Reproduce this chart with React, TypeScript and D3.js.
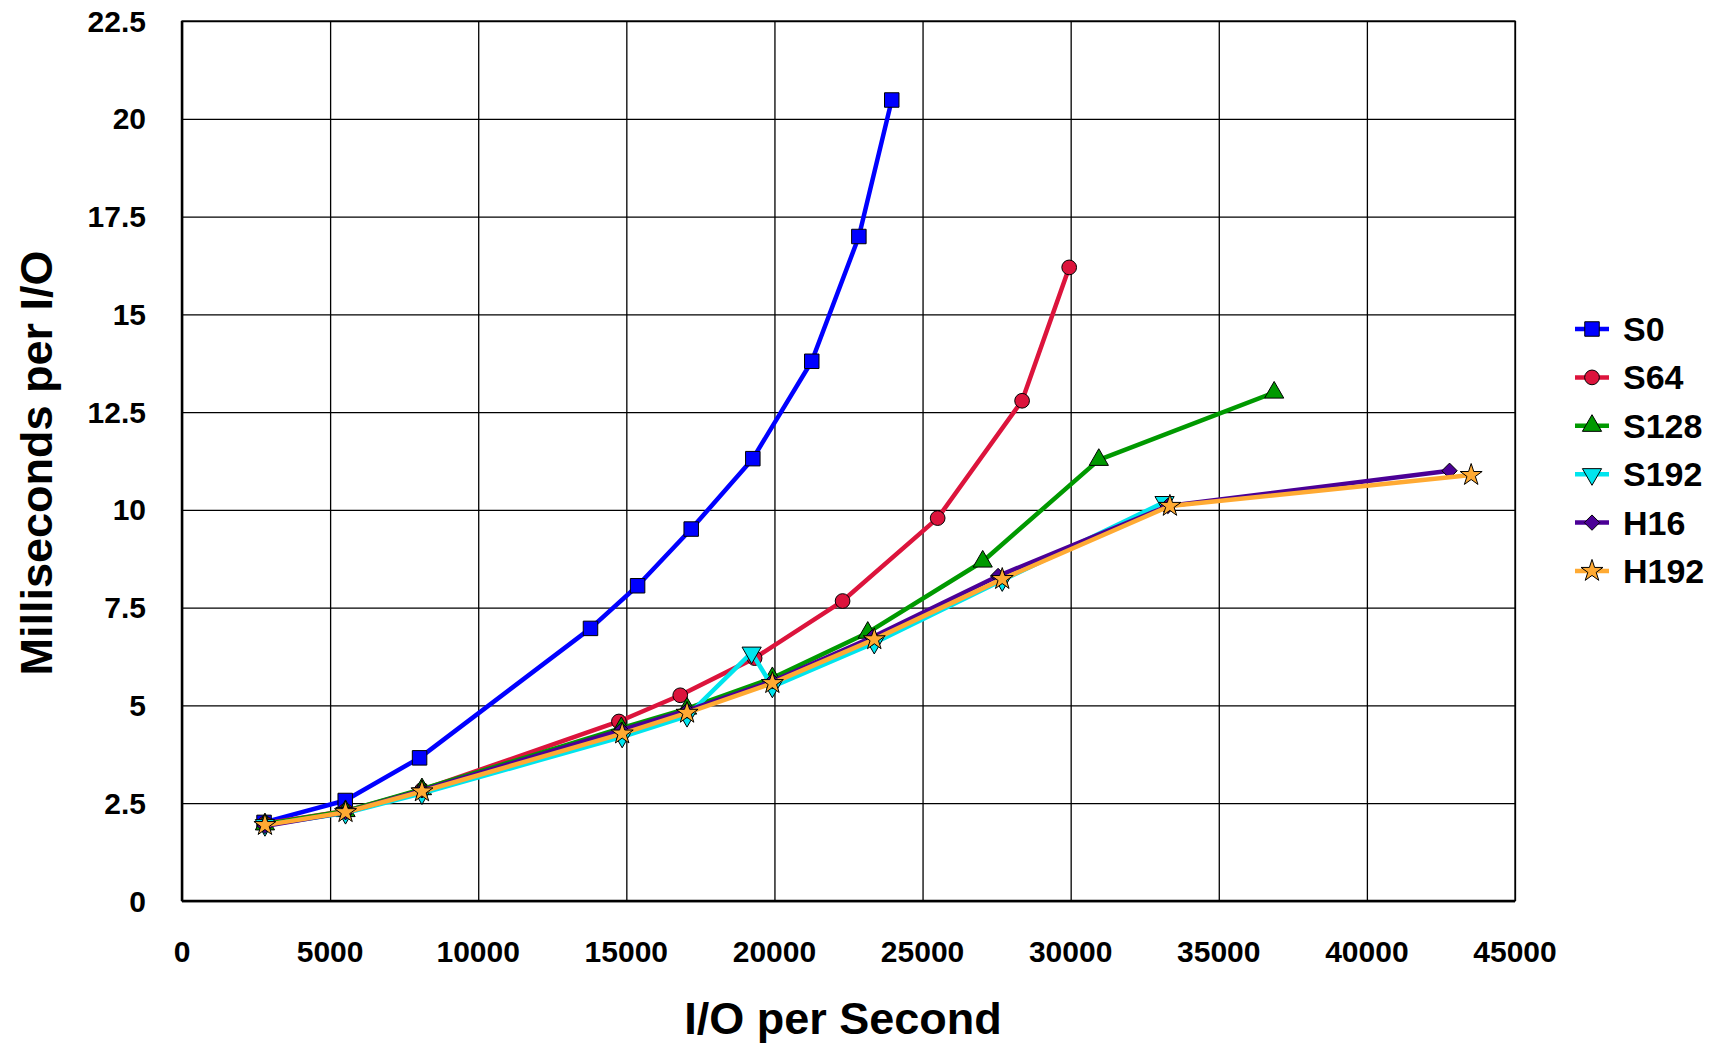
import * as d3 from "d3";
import { useRef, useEffect } from "react";

const seriesNames = ["S0", "S64", "S128", "S192", "H16", "H192"];
const seriesColors = ["#0000ff", "#dc143c", "#009900", "#00e5ee", "#4b0096", "#ffaa33"];

const s0X = [2770, 5510, 8020, 13790, 15380, 17190, 19270, 21260, 22850, 23960];
const s0Y = [2.01, 2.57, 3.66, 6.97, 8.06, 9.51, 11.31, 13.8, 16.99, 20.48];
const s64X = [2800, 5520, 8100, 14750, 16820, 19330, 22300, 25510, 28360, 29950];
const s64Y = [1.98, 2.3, 2.84, 4.59, 5.26, 6.21, 7.67, 9.79, 12.79, 16.2];
const s128X = [2800, 5520, 8100, 14830, 17050, 19930, 23150, 27030, 30950, 36870];
const s128Y = [1.96, 2.3, 2.86, 4.42, 4.92, 5.7, 6.86, 8.68, 11.28, 13.0];
const s192X = [2800, 5520, 8100, 14860, 17050, 19230, 19930, 23370, 27690, 33170];
const s192Y = [1.94, 2.25, 2.75, 4.2, 4.73, 6.35, 5.48, 6.6, 8.2, 10.2];
const h16X = [2800, 5520, 8100, 14830, 17050, 19930, 23300, 27550, 33280, 42790];
const h16Y = [1.92, 2.27, 2.83, 4.37, 4.87, 5.62, 6.74, 8.31, 10.1, 11.0];
const h192X = [2800, 5520, 8100, 14860, 17050, 19930, 23370, 27690, 33350, 43520];
const h192Y = [1.94, 2.27, 2.8, 4.28, 4.81, 5.57, 6.69, 8.23, 10.1, 10.89];

const xTicks = [0, 5000, 10000, 15000, 20000, 25000, 30000, 35000, 40000, 45000];
const yTicks = [0, 2.5, 5, 7.5, 10, 12.5, 15, 17.5, 20, 22.5];

const allX = [s0X, s64X, s128X, s192X, h16X, h192X];
const allY = [s0Y, s64Y, s128Y, s192Y, h16Y, h192Y];

const FONT = "Arial, 'Liberation Sans', sans-serif";

const App = () => {
  const svgRef = useRef(null);
  const width = 1717;
  const height = 1045;
  const margin = { left: 182, top: 21, right: 202, bottom: 144 };
  const w = width - margin.left - margin.right;
  const h = height - margin.top - margin.bottom;

  useEffect(() => {
    const xScale = d3.scaleLinear().domain([0, 45000]).range([0, w]);
    const yScale = d3.scaleLinear().domain([0, 22.5]).range([h, 0]);

    const svgEl = d3.select(svgRef.current);
    svgEl.selectAll("*").remove();
    svgEl.append("rect").attr("width", width).attr("height", height).attr("fill", "#fff");

    const svg = svgEl.append("g").attr("transform", `translate(${margin.left},${margin.top})`);

    // grid
    const xAxisGroup = svg
      .append("g")
      .attr("transform", `translate(0, ${h})`)
      .call(d3.axisBottom(xScale).tickValues(xTicks).tickSize(h).tickFormat(() => ""));
    xAxisGroup.select(".domain").remove();
    xAxisGroup.selectAll("line").attr("stroke", "#000").attr("stroke-width", 1.3).attr("transform", `translate(0,${-h})`);

    const yAxisGroup = svg
      .append("g")
      .call(d3.axisLeft(yScale).tickValues(yTicks).tickSize(-w).tickFormat(() => ""));
    yAxisGroup.select(".domain").remove();
    yAxisGroup.selectAll("line").attr("stroke", "#000").attr("stroke-width", 1.3);

    svg.append("rect").attr("width", w).attr("height", h).attr("fill", "none").attr("stroke", "#000").attr("stroke-width", 1.3);
    svg.append("line").attr("x1", 0).attr("x2", 0).attr("y1", 0).attr("y2", h).attr("stroke", "#000").attr("stroke-width", 2.5);
    svg.append("line").attr("x1", 0).attr("x2", w).attr("y1", h).attr("y2", h).attr("stroke", "#000").attr("stroke-width", 2.5);

    // tick labels
    svg
      .selectAll(".xl")
      .data(xTicks)
      .enter()
      .append("text")
      .attr("x", (d) => xScale(d))
      .attr("y", h + 61)
      .attr("text-anchor", "middle")
      .attr("font-family", FONT)
      .attr("font-weight", "bold")
      .attr("font-size", 30)
      .text((d) => String(d));
    svg
      .selectAll(".yl")
      .data(yTicks)
      .enter()
      .append("text")
      .attr("x", -36)
      .attr("y", (d) => yScale(d) + 10.5)
      .attr("text-anchor", "end")
      .attr("font-family", FONT)
      .attr("font-weight", "bold")
      .attr("font-size", 30)
      .text((d) => String(d));

    // titles
    svgEl
      .append("text")
      .attr("x", 843)
      .attr("y", 1034)
      .attr("text-anchor", "middle")
      .attr("font-family", FONT)
      .attr("font-weight", "bold")
      .attr("font-size", 45)
      .text("I/O per Second");
    svgEl
      .append("text")
      .attr("transform", `translate(52, ${463}) rotate(-90)`)
      .attr("text-anchor", "middle")
      .attr("font-family", FONT)
      .attr("font-weight", "bold")
      .attr("font-size", 45)
      .text("Milliseconds per I/O");

    const symbols = [
      d3.symbol().type(d3.symbolSquare).size(210),
      d3.symbol().type(d3.symbolCircle).size(170),
      d3.symbol().type(d3.symbolTriangle).size(160),
      d3.symbol().type(d3.symbolTriangle).size(160),
      d3.symbol().type(d3.symbolDiamond2).size(150),
      d3.symbol().type(d3.symbolStar).size(150),
    ];
    const rot = [0, 0, 0, 180, 0, 0];

    const line = d3
      .line()
      .x((d) => xScale(d[0]))
      .y((d) => yScale(d[1]));

    seriesNames.forEach((name, i) => {
      const pts = allX[i].map((x, j) => [x, allY[i][j]]);
      svg
        .append("path")
        .datum(pts)
        .attr("fill", "none")
        .attr("stroke", seriesColors[i])
        .attr("stroke-width", 4.5)
        .attr("stroke-linejoin", "round")
        .attr("d", line);
      svg
        .selectAll(".m" + i)
        .data(pts)
        .enter()
        .append("path")
        .attr("d", symbols[i])
        .attr("transform", (d) => `translate(${xScale(d[0])},${yScale(d[1])}) rotate(${rot[i]})`)
        .attr("fill", seriesColors[i])
        .attr("stroke", "#000")
        .attr("stroke-width", 1);
    });

    // legend
    const legend = svgEl.append("g");
    seriesNames.forEach((name, i) => {
      const y = 329 + i * 48.4;
      legend
        .append("line")
        .attr("x1", 1575)
        .attr("x2", 1609)
        .attr("y1", y)
        .attr("y2", y)
        .attr("stroke", seriesColors[i])
        .attr("stroke-width", 4.5);
      legend
        .append("path")
        .attr("d", symbols[i])
        .attr("transform", `translate(1592,${y}) rotate(${rot[i]})`)
        .attr("fill", seriesColors[i])
        .attr("stroke", "#000")
        .attr("stroke-width", 1);
      legend
        .append("text")
        .attr("x", 1623)
        .attr("y", y + 12)
        .attr("font-family", FONT)
        .attr("font-weight", "bold")
        .attr("font-size", 34)
        .text(name);
    });
  }, []);

  return (
    <svg
      ref={svgRef}
      width={width}
      height={height}
      style={{ position: "absolute", left: 0, top: 0 }}
    />
  );
};

export default App;
